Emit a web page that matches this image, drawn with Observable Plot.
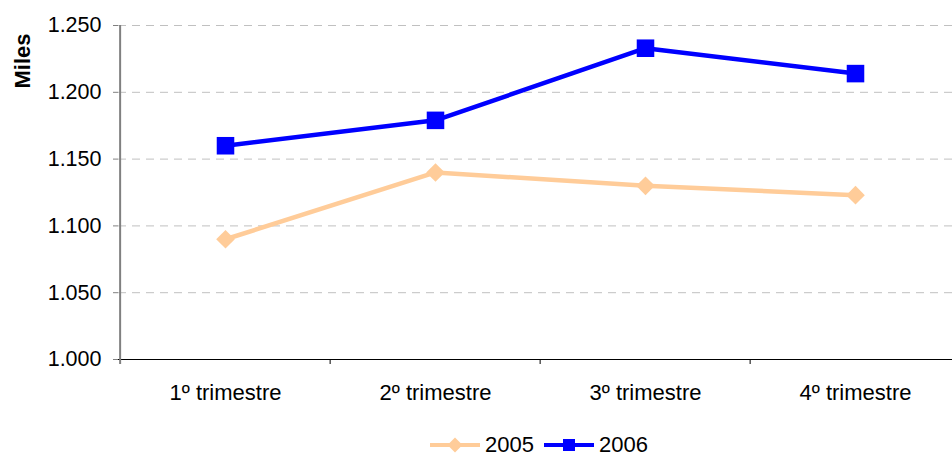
<!DOCTYPE html>
<html><head><meta charset="utf-8">
<script src="https://cdn.jsdelivr.net/npm/d3@7"></script>
<script src="https://cdn.jsdelivr.net/npm/@observablehq/plot@0.6"></script>
<style>
body{margin:0;background:#fff;font-family:"Liberation Sans",Arial,sans-serif;}
#legend{position:relative;height:36px;width:952px;}
.item{position:absolute;top:7px;height:36px;display:flex;align-items:center;}
.item span{font-size:22px;color:#000;line-height:1;}
</style></head><body><div id="chart"></div><div id="legend"></div>
<script>
const quarters = ["1º trimestre","2º trimestre","3º trimestre","4º trimestre"];
const series = ["2005","2006"];
const values2005 = [1.090, 1.140, 1.130, 1.123];
const values2006 = [1.160, 1.179, 1.233, 1.214];
const yTicks = [1.000, 1.050, 1.100, 1.150, 1.200, 1.250];
const yLabel = "Miles";
const colors = ["#FFCC99", "#0000FF"];
const symbols = ["diamond2", "square"];

const data = [
  ...quarters.map((q, i) => ({q, s: series[0], v: values2005[i]})),
  ...quarters.map((q, i) => ({q, s: series[1], v: values2006[i]}))
];

const xRange = [118, 961];
const step = (xRange[1] - xRange[0]) / quarters.length;
const fmt = d3.format(".3f");

const chart = Plot.plot({
  width: 952,
  height: 420,
  marginLeft: 118,
  marginRight: 0,
  marginTop: 25,
  marginBottom: 61,
  style: {fontFamily: "'Liberation Sans', Arial, sans-serif", background: "#fff", color: "#000"},
  x: {type: "point", domain: quarters, range: xRange, padding: 0.5, axis: null},
  y: {domain: [yTicks[0], yTicks[yTicks.length - 1]], axis: null},
  color: {domain: series, range: colors},
  symbol: {domain: series, range: symbols},
  marks: [
    Plot.ruleY(yTicks.slice(1), {stroke: "#c0c0c0", strokeWidth: 1, strokeDasharray: "8,6"}),
    Plot.ruleY([yTicks[0]], {stroke: "#000", strokeWidth: 1}),
    Plot.ruleX(quarters.slice(1), {x: d => d, y1: yTicks[0], y2: yTicks[0], insetBottom: -5, dx: -step / 2, stroke: "#000", strokeWidth: 1}),
    Plot.ruleX([quarters[0]], {x: d => d, y1: yTicks[yTicks.length - 1], y2: yTicks[0], insetBottom: -5, dx: -step / 2, stroke: "#808080", strokeWidth: 2}),
    Plot.axisY({ticks: yTicks, tickFormat: fmt, tickSize: 5, tickPadding: 12, fontSize: 21.5, stroke: "#808080", label: null}),
    Plot.text(quarters, {x: d => d, y: yTicks[0], text: d => d, dy: 33, fontSize: 22, fill: "#000"}),
    Plot.line(data, {x: "q", y: "v", z: "s", stroke: "s", strokeWidth: 4.5}),
    Plot.dot(data.filter(d => d.s === series[0]), {x: "q", y: "v", symbol: "s", fill: "s", r: 8.4}),
    Plot.dot(data.filter(d => d.s === series[1]), {x: "q", y: "v", symbol: "s", fill: "s", r: 9.9})
  ]
});
document.getElementById("chart").appendChild(chart);

// Y axis title
d3.select(chart).append("text")
  .attr("transform", "translate(30,61) rotate(-90)")
  .attr("text-anchor", "middle")
  .attr("font-size", 22)
  .attr("font-weight", "bold")
  .attr("fill", "#000")
  .text(yLabel);

// Legend
const legend = document.getElementById("legend");
const lefts = [430, 544];
series.forEach((s, i) => {
  const item = document.createElement("div");
  item.className = "item";
  item.style.left = lefts[i] + "px";
  const marker = i === 0
    ? `<polygon points="25,3.5 32.5,11 25,18.5 17.5,11" fill="${colors[i]}"/>`
    : `<rect x="19" y="5" width="12" height="12" fill="${colors[i]}"/>`;
  item.innerHTML = `<svg width="50" height="22" style="display:block"><line x1="0" x2="50" y1="11" y2="11" stroke="${colors[i]}" stroke-width="4"/>${marker}</svg><span style="margin-left:5px">${s}</span>`;
  legend.appendChild(item);
});
</script>
</body></html>
